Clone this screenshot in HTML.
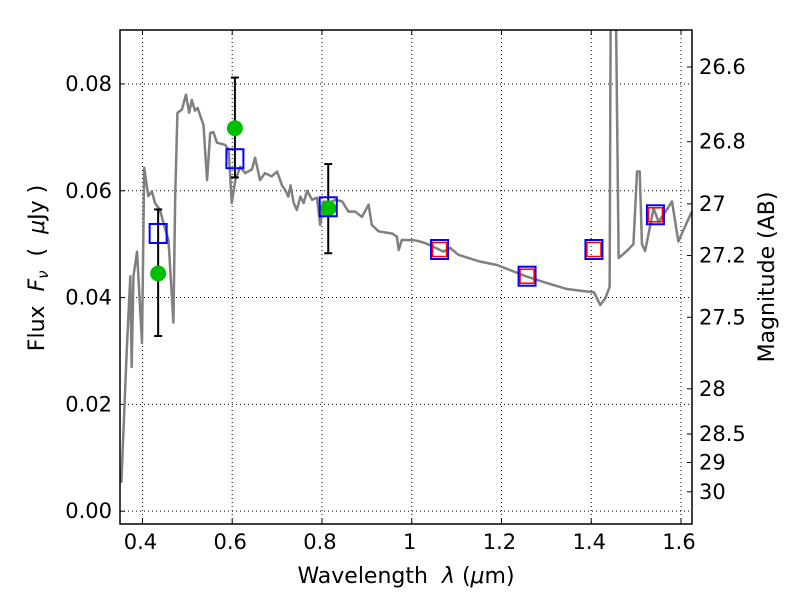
<!DOCTYPE html>
<html><head><meta charset="utf-8"><style>
body{margin:0;background:#fff}
svg{display:block;font-family:"DejaVu Sans","Liberation Sans",sans-serif}
</style></head><body>
<svg id="chart" width="800" height="600"></svg>
<script>
const specLam=[0.353,0.365,0.373,0.376,0.380,0.388,0.399,0.404,0.413,0.421,0.428,0.439,0.451,0.458,0.462,0.469,0.473,0.478,0.488,0.497,0.504,0.510,0.517,0.523,0.536,0.544,0.551,0.558,0.566,0.584,0.592,0.599,0.607,0.618,0.629,0.644,0.651,0.662,0.673,0.688,0.700,0.711,0.719,0.725,0.730,0.737,0.744,0.752,0.759,0.767,0.778,0.789,0.796,0.804,0.815,0.830,0.845,0.859,0.874,0.889,0.904,0.911,0.926,0.956,0.967,0.971,0.978,1.008,1.018,1.033,1.071,1.086,1.104,1.134,1.149,1.190,1.257,1.302,1.346,1.383,1.406,1.420,1.431,1.441,1.444,1.453,1.461,1.479,1.494,1.502,1.508,1.513,1.520,1.539,1.550,1.568,1.580,1.594,1.624];
const specFlux=[0.0053,0.030,0.044,0.027,0.044,0.0486,0.0315,0.0643,0.059,0.0599,0.0577,0.0564,0.0527,0.0508,0.0452,0.0353,0.0589,0.0746,0.0752,0.078,0.0746,0.077,0.075,0.0755,0.0723,0.062,0.0708,0.071,0.069,0.0686,0.0677,0.0577,0.062,0.0645,0.0633,0.064,0.0662,0.062,0.0633,0.0627,0.0636,0.061,0.060,0.0589,0.061,0.0577,0.0564,0.0589,0.0577,0.060,0.0583,0.0587,0.0536,0.058,0.0577,0.0583,0.058,0.0561,0.0561,0.0551,0.0574,0.0536,0.0524,0.052,0.0514,0.0489,0.0508,0.0507,0.0505,0.0501,0.0486,0.0493,0.048,0.0472,0.0468,0.0461,0.0439,0.0427,0.0416,0.0412,0.041,0.0386,0.0398,0.042,0.11,0.11,0.0474,0.0487,0.050,0.0636,0.0636,0.050,0.0487,0.0567,0.0542,0.0564,0.058,0.0505,0.0561];
const obsLam=[0.435,0.606,0.814];
const obsFlux=[0.0445,0.0717,0.0567];
const obsLo=[0.0328,0.0625,0.0483];
const obsHi=[0.0565,0.0812,0.065];
const modLam=[0.435,0.606,0.814,1.062,1.257,1.406,1.543];
const modFlux=[0.052,0.066,0.057,0.049,0.044,0.049,0.0555];
const redLam=[1.062,1.257,1.406,1.543];
const redFlux=[0.049,0.044,0.049,0.0555];
const xTicks=[0.4,0.6,0.8,1.0,1.2,1.4,1.6];
const xTickLabels=["0.4","0.6","0.8","1","1.2","1.4","1.6"];
const yTicks=[0,0.02,0.04,0.06,0.08];
const yTickLabels=["0.00","0.02","0.04","0.06","0.08"];
const magTicks=[26.6,26.8,27,27.2,27.5,28,28.5,29,30];
const magTickLabels=["26.6","26.8","27","27.2","27.5","28","28.5","29","30"];

const L=120,R=692,T=30,B=524;
const xmin=0.35,xmax=1.6245,ymin=-0.0024,ymax=0.0901;
const X=v=>L+(v-xmin)/(xmax-xmin)*(R-L);
const Y=v=>B-(v-ymin)/(ymax-ymin)*(B-T);
const NS="http://www.w3.org/2000/svg";
const svg=document.getElementById('chart');
function mk(tag,attrs,parent){const e=document.createElementNS(NS,tag);for(const k in attrs)e.setAttribute(k,attrs[k]);(parent||svg).appendChild(e);return e;}

const clip=mk('clipPath',{id:'pc'});mk('rect',{x:L,y:T,width:R-L,height:B-T},clip);
xTicks.forEach((v,i)=>{
 const g=mk('line',{x1:X(v),x2:X(v),y1:T,y2:B,stroke:'#000','stroke-width':1,'stroke-dasharray':'1,3'});
 
 
 mk('line',{x1:X(v),x2:X(v),y1:B,y2:B-5,stroke:'#000'});
 mk('line',{x1:X(v),x2:X(v),y1:T,y2:T+5,stroke:'#000'});
 const t=mk('text',{x:X(v)-2,y:B+25,'text-anchor':'middle','font-size':21});t.textContent=xTickLabels[i];
 
 
});
yTicks.forEach((v,i)=>{
 const g=mk('line',{x1:L,x2:R,y1:Y(v),y2:Y(v),stroke:'#000','stroke-width':1,'stroke-dasharray':'1,3'});
 
 
 mk('line',{x1:L,x2:L+5,y1:Y(v),y2:Y(v),stroke:'#000'});
 const t=mk('text',{x:L-8,y:Y(v)+7,'text-anchor':'end','font-size':21});t.textContent=yTickLabels[i];
 
 
});
magTicks.forEach((m,i)=>{
 const f=Math.pow(10,(23.9-m)/2.5);
 mk('line',{x1:R,x2:R-5,y1:Y(f),y2:Y(f),stroke:'#000'});
 const t=mk('text',{x:R+7,y:Y(f)+7,'font-size':21});t.textContent=magTickLabels[i];
 
 
});
const sp=mk('polyline',{points:specLam.map((l,i)=>X(l)+','+Y(specFlux[i])).join(' '),fill:'none',stroke:'#808080','stroke-width':2.5,'stroke-linejoin':'round','clip-path':'url(#pc)'});


obsLam.forEach((l,i)=>{
 const g=mk('g',{stroke:'#000','stroke-width':2});
 
 
 mk('line',{x1:X(l),x2:X(l),y1:Y(obsLo[i]),y2:Y(obsHi[i])},g);
 mk('line',{x1:X(l)-4,x2:X(l)+4,y1:Y(obsLo[i]),y2:Y(obsLo[i])},g);
 mk('line',{x1:X(l)-4,x2:X(l)+4,y1:Y(obsHi[i]),y2:Y(obsHi[i])},g);
});
obsLam.forEach((l,i)=>{
 const c=mk('circle',{cx:X(l),cy:Y(obsFlux[i]),r:8,fill:'#00bf00'});
 
 
});
modLam.forEach((l,i)=>{
 const r=mk('rect',{x:X(l)-8.5,y:Y(modFlux[i])-9.5,width:17,height:19,fill:'none',stroke:'#0000ff','stroke-width':2});
 
 
});
redLam.forEach((l,i)=>{
 const r=mk('rect',{x:X(l)-7,y:Y(redFlux[i])-7,width:14,height:14,fill:'none',stroke:'#ff0000','stroke-width':1.5});
 
 
});
const fr=mk('rect',{x:L,y:T,width:R-L,height:B-T,fill:'none',stroke:'#000','stroke-width':1.5});


</script>
<svg width="800" height="600" style="position:absolute;left:0;top:0">
<text x="406" y="583" text-anchor="middle" font-size="22" font-family="DejaVu Sans,sans-serif" xml:space="preserve">Wavelength  <tspan font-style="italic">λ</tspan> (<tspan font-style="italic">μ</tspan>m)</text>
<text transform="translate(44,268) rotate(-90)" text-anchor="middle" font-size="22" font-family="DejaVu Sans,sans-serif" xml:space="preserve">Flux  <tspan font-style="italic">F</tspan><tspan font-style="italic" font-size="15" dy="4">ν</tspan><tspan dy="-4">  (  </tspan><tspan font-style="italic">μ</tspan>Jy )</text>
<text transform="translate(774,277) rotate(-90)" text-anchor="middle" font-size="22" font-family="DejaVu Sans,sans-serif">Magnitude (AB)</text>
</svg>
</body></html>
